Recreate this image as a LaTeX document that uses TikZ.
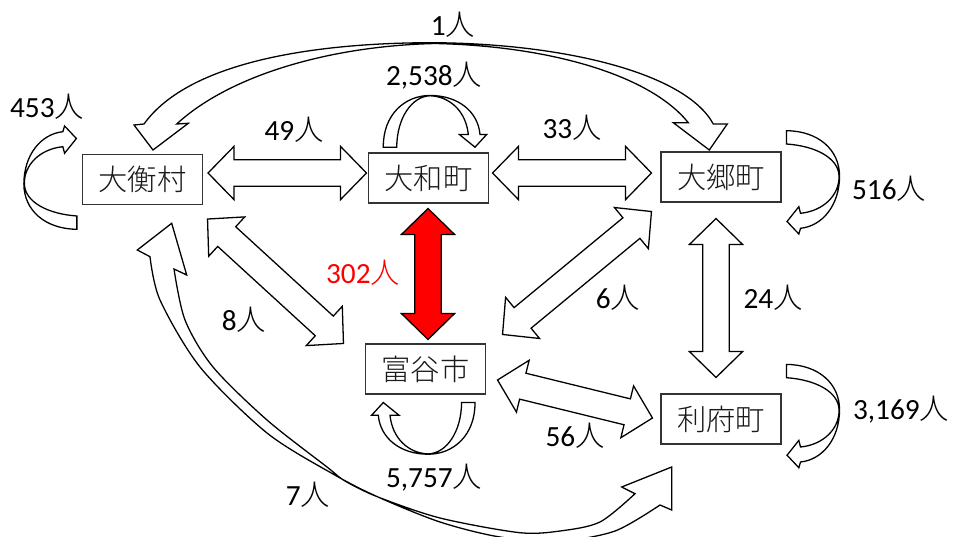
\documentclass[tikz,border=0pt]{standalone}
\usepackage{fontspec}
\setmainfont{Carlito}
\newfontfamily\jp[UprightFont={* Light}]{Noto Sans CJK JP}
\usetikzlibrary{calc}

\newcommand\hito{{\jp 人}}
\newcommand\biarrow[3][white]{%
  \coordinate (da) at #2;
  \coordinate (db) at #3;
  \coordinate (dc) at ($(da)!0.78cm!(db)$);
  \coordinate (dd) at ($(db)!0.78cm!(da)$);
  \draw[fill=#1] (da) -- ($(dc)!0.8cm!90:(db)$) -- ($(dc)!0.4cm!90:(db)$)
    -- ($(dd)!0.4cm!-90:(da)$) -- ($(dd)!0.8cm!-90:(da)$) -- (db)
    -- ($(dd)!0.8cm!90:(da)$) -- ($(dd)!0.4cm!90:(da)$)
    -- ($(dc)!0.4cm!-90:(db)$) -- ($(dc)!0.8cm!-90:(db)$) -- cycle;
}

\tikzset{
  box/.style={draw=black!80, line width=0.9pt, fill=white, minimum width=3.6cm, minimum height=1.5cm,
    inner sep=0pt, text=black!90, font=\jp\fontsize{25}{30}\selectfont},
  num/.style={inner sep=0pt, font=\fontsize{25}{30}\selectfont},
  sideloop/.pic={
    \draw[fill=white] (0,-46.3) .. controls (32,-46) and (53,-27) .. (53,-1)
      .. controls (53,28) and (36,49) .. (14,51.3) -- (12.3,57) -- (0.5,44.5) -- (12.3,29.7)
      -- (14,36.3) .. controls (37,34) and (53,18) .. (52.5,-1)
      .. controls (52,-19) and (29,-31) .. (0,-33) -- cycle;
  },
  toploop/.pic={
    \draw[fill=white] (-49.2,0) .. controls (-49.5,-32.7) and (-27.5,-51.7) .. (-2.5,-51.7)
      .. controls (25.5,-51.7) and (45.5,-35.7) .. (47.5,-12.7) -- (54.2,-12.7) -- (42.5,0)
      -- (26.8,-12.7) -- (35.8,-12.7) .. controls (33.5,-35.7) and (17.5,-50.7) .. (-2.5,-51.4)
      .. controls (-20.5,-50.7) and (-35.5,-29.7) .. (-35.8,0) -- cycle;
  }
}

\begin{document}
\begin{tikzpicture}[x=0.03cm, y=-0.03cm, line width=1.1pt, line join=miter]
    \clip (0,0) rectangle (955,537);

    \draw[fill=white] (144,124) .. controls (190,60) and (320,43) .. (430,42.7)
      .. controls (560,43) and (685,72) .. (713.3,124) -- (727.3,124) -- (709.3,150)
      -- (673.3,122.7) -- (688.3,122.7) .. controls (650,75) and (550,46) .. (435,43.5)
      .. controls (330,46) and (230,75) .. (176.7,124) -- (188.3,123.3) -- (153,150)
      -- (134,125) -- cycle;
    \draw[fill=white] (150,256.7) -- plot[smooth] coordinates {(150,256.7) (160,300) (200,367)
      (267,433) (333,474) (378,497) (440,522) (500,537) (560,541) (615,531) (660,505)}
      -- (671.7,510) -- (671.7,467) -- (621.7,487)
      -- plot[smooth] coordinates {(635,493.7) (600,522) (560,531) (519,532.6) (440,518)
      (378,497) (345,481) (327,467) (267,420) (213,367) (185,320) (174,269)}
      -- (186.7,275) -- (171.7,223.3) -- (137.3,250) -- cycle;

    \node[box] (ohira) at (142.5,179.5) {大衡村};
    \node[box] (taiwa) at (428.5,178) {大和町};
    \node[box] (osato) at (721,177) {大郷町};
    \node[box] (tomiya) at (425.5,369) {富谷市};
    \node[box] (rifu) at (721,419) {利府町};

    \pic[rotate=180] at ($(ohira.west)+(-5.1,3.5)$) {sideloop};
    \pic at ($(osato.east)+(5,0)$) {sideloop};
    \pic at ($(rifu.east)+(5,-8.3)$) {sideloop};
    \pic at ($(taiwa.north)+(4,-5.3)$) {toploop};
    \pic[rotate=180] at ($(tomiya.south)+(0.3,8)$) {toploop};

    \biarrow{($(ohira.east)+(5,-6.5)$)}{($(taiwa.west)+(-1.5,-5)$)}
    \biarrow{($(taiwa.east)+(3.5,-5)$)}{($(osato.west)+(-9,-4)$)}
    \biarrow[red]{($(taiwa.south)+(-0.5,5)$)}{($(tomiya.north)+(2.5,-4)$)}
    \biarrow{($(osato.south)+(-5,16)$)}{($(rifu.north)+(-5,-16)$)}
    \biarrow{($(ohira.south east)+(4.5,14)$)}{($(tomiya.north west)+(-21.5,0)$)}
    \biarrow{($(osato.south west)+(-9,9)$)}{($(tomiya.north east)+(16.5,-9)$)}
    \biarrow{($(tomiya.east)+(11.5,11)$)}{($(rifu.west)+(-8,-1)$)}

    \node[num] (n1) at (453,25) {1\hito};
    \node[num] (n453) at (47,107) {453\hito};
    \node[num] (n2538) at (434,76) {2,538\hito};
    \node[num] (n49) at (294,130) {49\hito};
    \node[num] (n33) at (572,128) {33\hito};
    \node[num] (n516) at (889,189) {516\hito};
    \node[num, text=red] (n302) at (363,273) {302\hito};
    \node[num] (n8) at (244,320) {8\hito};
    \node[num] (n6) at (618,298) {6\hito};
    \node[num] (n24) at (773,298) {24\hito};
    \node[num] (n3169) at (901,410) {3,169\hito};
    \node[num] (n56) at (575,436) {56\hito};
    \node[num] (n5757) at (434,478) {5,757\hito};
    \node[num] (n7) at (308,495) {7\hito};
\end{tikzpicture}
\end{document}
